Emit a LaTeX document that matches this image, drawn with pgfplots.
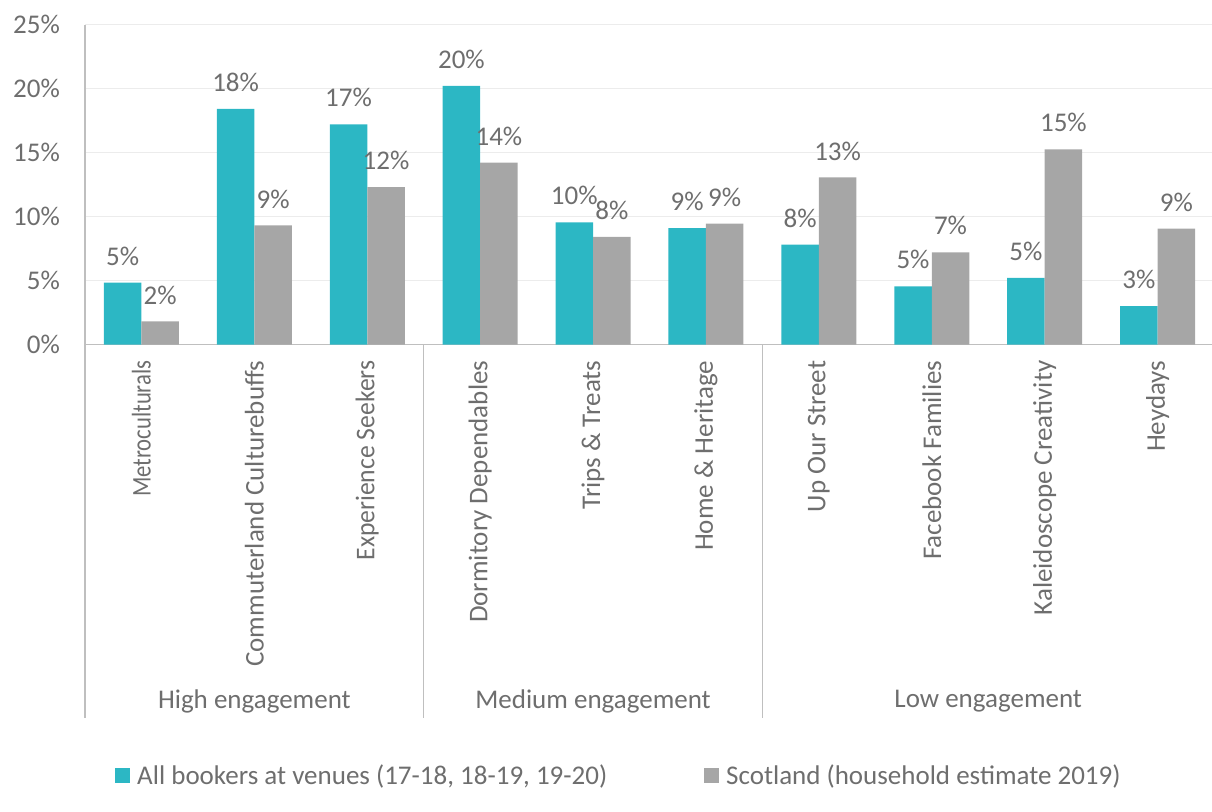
\documentclass[border=0pt]{standalone}
\usepackage{fontspec}
\setmainfont{Carlito}
\usepackage{pgfplots}
\pgfplotsset{compat=1.18}
\definecolor{barteal}{HTML}{2CB7C4}
\definecolor{bargray}{HTML}{A6A6A6}
\definecolor{txt}{HTML}{6E6E6E}
\definecolor{gridc}{HTML}{ECECEC}
\definecolor{axc}{HTML}{BFBFBF}
\newcommand\fs{\fontsize{27pt}{31pt}\selectfont}
\begin{document}
\begin{tikzpicture}
\begin{axis}[
  scale only axis, width=1129pt, height=320pt,
  xmin=-0.5, xmax=9.5, ymin=0, ymax=25,
  ybar=0pt, bar width=37.5pt,
  clip=false,
  axis lines*=left,
  axis line style={axc, line width=1.4pt, -},
  major tick length=0pt,
  /pgf/number format/assume math mode=true,
  ytick={0,5,10,15,20,25},
  yticklabel={\pgfmathprintnumber{\tick}\%},
  yticklabel style={font=\fs, text=txt, inner sep=0pt, xshift=-25pt},
  ymajorgrids, grid style={gridc, line width=1.2pt},
  xtick={0,...,9},
  xticklabels={\scalebox{0.84}[1]{Metroculturals}, Commuterland Culturebuffs, \scalebox{0.95}[1]{Experience Seekers}, Dormitory Dependables, Trips \& Treats, Home \& Heritage, Up Our Street, Facebook Families, Kaleidoscope Creativity, Heydays},
  xticklabel style={font=\fs, text=txt, rotate=90, anchor=east, inner sep=0pt},
  xticklabel shift=16pt,
  nodes near coords={\pgfmathprintnumber[fixed,precision=0]{\pgfplotspointmeta}\%},
  nodes near coords style={font=\fs, text=txt, anchor=south, inner sep=0pt, yshift=17pt},
  legend columns=2,
  legend cell align=left,
  legend style={at={(0.0266,-1.347)}, anchor=west, draw=none, fill=none, inner sep=0pt,
    font=\fs, text=txt, nodes={inner sep=0pt},
    /tikz/every odd column/.append style={column sep=7pt},
    /tikz/every even column/.append style={column sep=0pt}},
  legend image code/.code={\fill[#1] (0pt,-7.5pt) rectangle (15pt,7.5pt);},
]
\addplot[fill=barteal, draw=none] coordinates {(0,4.84) (1,18.4) (2,17.2) (3,20.2) (4,9.55) (5,9.1) (6,7.8) (7,4.55) (8,5.2) (9,3.0)};
\addlegendentry{\makebox[567pt][l]{All bookers at venues (17-18, 18-19, 19-20)}}
\addplot[fill=bargray, draw=none] coordinates {(0,1.8) (1,9.3) (2,12.3) (3,14.2) (4,8.4) (5,9.45) (6,13.05) (7,7.2) (8,15.25) (9,9.06)};
\addlegendentry{Scotland (household estimate 2019)}
\coordinate (O) at (axis cs:-0.5,0);
\draw[axc, line width=1.4pt] (axis cs:-0.5,0) -- ++(0pt,-373.5pt);
\draw[axc, line width=1.4pt] (axis cs:2.5,0) -- ++(0pt,-373.5pt);
\draw[axc, line width=1.4pt] (axis cs:5.5,0) -- ++(0pt,-373.5pt);
\node[font=\fs, text=txt] at ([yshift=-356.5pt]axis cs:1,0) {High engagement};
\node[font=\fs, text=txt] at ([yshift=-356.5pt]axis cs:4,0) {Medium engagement};
\node[font=\fs, text=txt] at ([yshift=-356.5pt]axis cs:7.5,0) {Low engagement};
\end{axis}
\pgfresetboundingbox
\path[use as bounding box] ([shift={(-85pt,344.5pt)}]O) rectangle ([shift={(1127pt,-466.5pt)}]O);
\end{tikzpicture}
\end{document}
